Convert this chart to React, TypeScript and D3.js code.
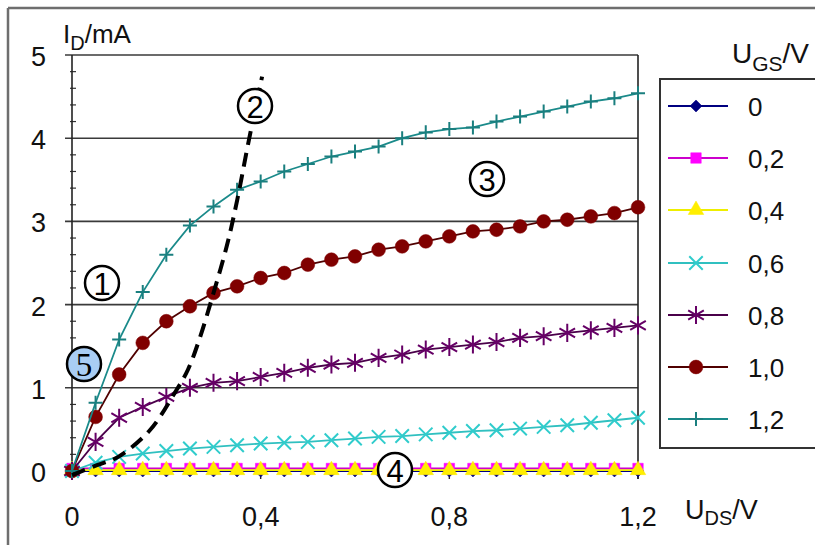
import * as d3 from "d3";

const uds = [0, 0.05, 0.1, 0.15, 0.2, 0.25, 0.3, 0.35, 0.4, 0.45, 0.5, 0.55, 0.6, 0.65, 0.7, 0.75, 0.8, 0.85, 0.9, 0.95, 1.0, 1.05, 1.1, 1.15, 1.2];

const ugsLabels = ["0", "0,2", "0,4", "0,6", "0,8", "1,0", "1,2"];

const id00 = [0, 0, 0, 0, 0, 0, 0, 0, 0, 0, 0, 0, 0, 0, 0, 0, 0, 0, 0, 0, 0, 0, 0, 0, 0];
const id02 = [0.03, 0.03, 0.03, 0.03, 0.03, 0.03, 0.03, 0.03, 0.03, 0.03, 0.03, 0.03, 0.03, 0.03, 0.03, 0.03, 0.03, 0.03, 0.03, 0.03, 0.03, 0.03, 0.03, 0.03, 0.03];
const id04 = [0.01, 0.01, 0.01, 0.01, 0.01, 0.01, 0.01, 0.01, 0.01, 0.01, 0.01, 0.01, 0.01, 0.01, 0.01, 0.01, 0.01, 0.01, 0.01, 0.01, 0.01, 0.01, 0.01, 0.01, 0.01];
const id06 = [0, 0.1, 0.17, 0.21, 0.24, 0.27, 0.29, 0.31, 0.33, 0.34, 0.35, 0.37, 0.39, 0.41, 0.42, 0.44, 0.46, 0.48, 0.49, 0.51, 0.53, 0.55, 0.58, 0.61, 0.64];
const id08 = [0, 0.35, 0.64, 0.77, 0.89, 1.0, 1.06, 1.08, 1.13, 1.18, 1.24, 1.28, 1.3, 1.36, 1.4, 1.46, 1.49, 1.52, 1.55, 1.6, 1.62, 1.66, 1.69, 1.72, 1.75];
const id10 = [0, 0.65, 1.16, 1.54, 1.8, 1.98, 2.14, 2.22, 2.32, 2.38, 2.48, 2.54, 2.58, 2.66, 2.7, 2.76, 2.82, 2.88, 2.9, 2.94, 3.0, 3.02, 3.06, 3.1, 3.17];
const id12 = [0, 0.82, 1.58, 2.15, 2.6, 2.95, 3.18, 3.38, 3.48, 3.6, 3.69, 3.78, 3.84, 3.9, 4.0, 4.07, 4.11, 4.13, 4.2, 4.26, 4.32, 4.38, 4.44, 4.48, 4.54];

// boundary between ohmic and saturation region (dashed)
const boundaryUds = [0, 0.053, 0.098, 0.165, 0.218, 0.246, 0.271, 0.299, 0.328, 0.35, 0.373, 0.403];
const boundaryId = [-0.05, 0.07, 0.17, 0.49, 0.94, 1.22, 1.6, 2.12, 2.7, 3.25, 3.92, 4.74];

const xTicks = [0, 0.4, 0.8, 1.2];
const xTickLabels = ["0", "0,4", "0,8", "1,2"];
const yTicks = [0, 1, 2, 3, 4, 5];
const yMinor = [0.2, 0.4, 0.6, 0.8, 1.2, 1.4, 1.6, 1.8, 2.2, 2.4, 2.6, 2.8, 3.2, 3.4, 3.6, 3.8, 4.2, 4.4, 4.6, 4.8];

const FONT = "Liberation Sans, Arial, sans-serif";

const series = [
  { values: id00, color: "#000080", line: "#000080", marker: "diamond" },
  { values: id02, color: "#ff00ff", line: "#cc00cc", marker: "square" },
  { values: id04, color: "#ffee00", line: "#eeee00", marker: "triangle" },
  { values: id06, color: "#30cccc", line: "#30c0c0", marker: "times" },
  { values: id08, color: "#660066", line: "#4a004a", marker: "asterisk" },
  { values: id10, color: "#800000", line: "#500000", marker: "circle" },
  { values: id12, color: "#1a7f7f", line: "#1a8a8a", marker: "plus" },
];

const symbolFor = (kind: string) => {
  switch (kind) {
    case "diamond": return d3.symbol(d3.symbolSquare, 72)();
    case "square": return d3.symbol(d3.symbolSquare, 110)();
    case "triangle": return d3.symbol(d3.symbolTriangle, 105)();
    case "times": return d3.symbol(d3.symbolTimes, 120)();
    case "asterisk": return d3.symbol(d3.symbolAsterisk, 230)();
    case "circle": return d3.symbol(d3.symbolCircle, 150)();
    default: return d3.symbol(d3.symbolPlus, 66)();
  }
};

const Marker = ({ kind, color, x, y }: { kind: string; color: string; x: number; y: number }) => {
  const d = symbolFor(kind);
  const stroked = kind === "times" || kind === "asterisk" || kind === "plus";
  const rot = kind === "diamond" ? " rotate(45)" : "";
  return (
    <path
      d={d}
      transform={`translate(${x},${y})${rot}`}
      fill={stroked ? "none" : color}
      stroke={color}
      strokeWidth={stroked ? 2 : 0.5}
    />
  );
};

const Circled = ({ x, y, label, fill = "#fff", serif = false }: any) => (
  <g>
    <circle cx={x} cy={y} r={17} fill={fill} stroke="#000" strokeWidth={2.5} />
    <text
      x={x}
      y={y + 1}
      textAnchor="middle"
      dominantBaseline="central"
      fontFamily={serif ? "Liberation Serif, serif" : FONT}
      fontSize={serif ? 33 : 31}
      fill="#000"
    >
      {label}
    </text>
  </g>
);

export default function App() {
  const width = 815;
  const height = 545;
  const x = d3.scaleLinear().domain([0, 1.2]).range([72, 638]);
  const y = d3.scaleLinear().domain([0, 5]).range([471, 55]);

  const line = d3
    .line<number>()
    .x((_, i) => x(uds[i]))
    .y((v) => y(v));

  const boundary = d3
    .line<number>()
    .x((_, i) => x(boundaryUds[i]))
    .y((v) => y(v))
    .curve(d3.curveCatmullRom);

  const legendRows = [106, 158, 210, 263, 315, 367, 419];

  return (
    <svg
      width={width}
      height={height}
      style={{ position: "absolute", left: 0, top: 0, background: "#fff" }}
    >
      {/* frame */}
      <line x1={8} y1={8} x2={815} y2={8} stroke="#6e6e6e" strokeWidth={2.5} />
      <line x1={8} y1={8} x2={8} y2={545} stroke="#6e6e6e" strokeWidth={2.5} />

      {/* gridlines */}
      {yTicks.slice(1).map((t) => (
        <line key={t} x1={65} x2={638} y1={y(t)} y2={y(t)} stroke="#3a3a3a" strokeWidth={1.6} />
      ))}
      {yMinor.map((t) => (
        <line key={t} x1={70} x2={76} y1={y(t)} y2={y(t)} stroke="#333" strokeWidth={1.2} />
      ))}
      <line x1={65} x2={72} y1={y(0)} y2={y(0)} stroke="#333" strokeWidth={1.6} />
      <line x1={72} x2={72} y1={y(5)} y2={y(0)} stroke="#222" strokeWidth={1.6} />
      <line x1={638} x2={638} y1={y(5)} y2={y(0) + 8} stroke="#222" strokeWidth={1.6} />
      <line x1={72} x2={638} y1={y(0)} y2={y(0)} stroke="#222" strokeWidth={1.4} />
      {xTicks.map((t) => (
        <line key={t} x1={x(t)} x2={x(t)} y1={y(0)} y2={y(0) + 8} stroke="#222" strokeWidth={1.4} />
      ))}

      {/* tick labels */}
      {yTicks.map((t) => (
        <text key={t} x={46} y={y(t) + 2} textAnchor="end" dominantBaseline="central" fontFamily={FONT} fontSize={27} fill="#111">
          {t}
        </text>
      ))}
      {xTicks.map((t, i) => (
        <text key={t} x={x(t)} y={526} textAnchor="middle" fontFamily={FONT} fontSize={27} fill="#111">
          {xTickLabels[i]}
        </text>
      ))}

      {/* axis titles */}
      <text x={63} y={43} fontFamily={FONT} fontSize={26} fill="#111">
        I<tspan dy={7} fontSize={20}>D</tspan>
        <tspan dy={-7}>/mA</tspan>
      </text>
      <text x={685} y={519} fontFamily={FONT} fontSize={27} fill="#111">
        U<tspan dy={6} fontSize={20}>DS</tspan>
        <tspan dy={-6}>/V</tspan>
      </text>

      {/* series */}
      {series.map((s, si) => (
        <g key={si}>
          <path d={line(s.values) || ""} fill="none" stroke={s.line} strokeWidth={1.8} />
          {s.values.map((v, i) => (
            <Marker key={i} kind={s.marker} color={s.color} x={x(uds[i])} y={y(v)} />
          ))}
        </g>
      ))}

      {/* boundary curve */}
      <path
        d={boundary(boundaryId) || ""}
        fill="none"
        stroke="#000"
        strokeWidth={4}
        strokeDasharray="14 8"
      />

      {/* region labels */}
      <Circled x={102} y={283} label="1" />
      <Circled x={255} y={106} label="2" />
      <Circled x={487} y={179} label="3" />
      <Circled x={395} y={470} label="4" />
      <Circled x={84} y={364} label="5" fill="#a9cdf4" serif />

      {/* legend */}
      <text x={732} y={63} fontFamily={FONT} fontSize={28} fill="#111">
        U<tspan dy={8} fontSize={21}>GS</tspan>
        <tspan dy={-8}>/V</tspan>
      </text>
      <rect x={660} y={79} width={170} height={369} fill="#fff" stroke="#333" strokeWidth={2} />
      {series.map((s, i) => (
        <g key={i}>
          <line x1={668} x2={728} y1={legendRows[i]} y2={legendRows[i]} stroke={s.line} strokeWidth={2} />
          <Marker kind={s.marker} color={s.color} x={696} y={legendRows[i]} />
          <text x={748} y={legendRows[i] + 1} dominantBaseline="central" fontFamily={FONT} fontSize={26} fill="#111">
            {ugsLabels[i]}
          </text>
        </g>
      ))}
    </svg>
  );
}
